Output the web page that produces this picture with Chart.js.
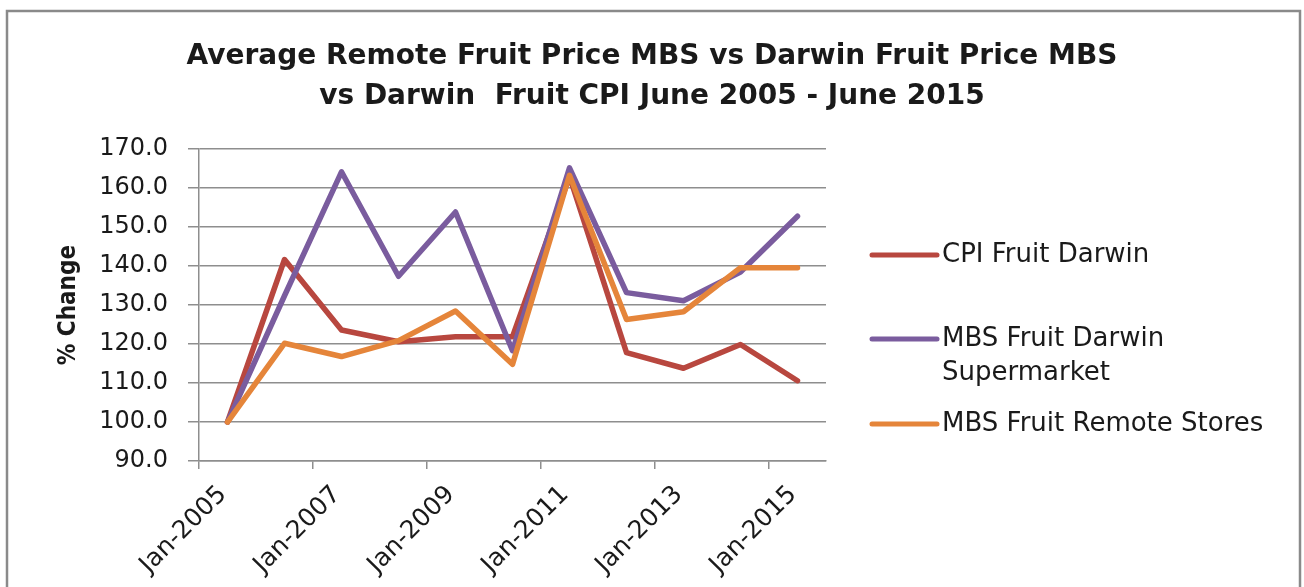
<!DOCTYPE html>
<html>
<head>
<meta charset="utf-8">
<script src="https://cdn.jsdelivr.net/npm/chart.js@4.4.1/dist/chart.umd.min.js"></script>
<style>
  html, body { margin: 0; padding: 0; background: #fff; }
  #wrap { width: 1304px; height: 587px; }
</style>
</head>
<body>
<div id="wrap"><canvas id="fruitChart" width="1304" height="587"></canvas></div>
<script>
// index (June 2005 = 100), one value per June
const periods = ['Jun-2005', 'Jun-2006', 'Jun-2007', 'Jun-2008', 'Jun-2009', 'Jun-2010',
                 'Jun-2011', 'Jun-2012', 'Jun-2013', 'Jun-2014', 'Jun-2015'];
const cpiFruitDarwin = [100, 141.7, 123.6, 120.6, 121.9, 121.9, 163.0, 117.8, 113.8, 119.9, 110.6];
const mbsDarwinSupermarket = [100, 132.4, 164.2, 137.4, 153.9, 118.3, 165.2, 133.2, 131.1, 138.5, 152.8];
const mbsRemoteStores = [100, 120.2, 116.8, 120.9, 128.5, 114.8, 163.3, 126.3, 128.3, 139.6, 139.6];
const xTickYears = [2005, 2007, 2009, 2011, 2013, 2015];
const yTicks = [90, 100, 110, 120, 130, 140, 150, 160, 170];

const chartTitle = ['Average Remote Fruit Price MBS vs Darwin Fruit Price MBS',
                    'vs Darwin  Fruit CPI June 2005 - June 2015'];

const MONTHS = ['Jan', 'Feb', 'Mar', 'Apr', 'May', 'Jun', 'Jul', 'Aug', 'Sep', 'Oct', 'Nov', 'Dec'];
// end of month as decimal year
function toYear(p) {
  const [m, y] = p.split('-');
  return Number(y) + (MONTHS.indexOf(m) + 1) / 12;
}
const pts = vals => vals.map((v, i) => ({ x: toYear(periods[i]), y: v }));

const GRID = '#8e8e8e';
const TEXT = '#1a1a1a';
const FONT = "'DejaVu Sans', sans-serif";

// frame round the whole chart
const framePlugin = {
  id: 'frame',
  beforeDraw(chart) {
    const c = chart.ctx;
    c.save();
    c.fillStyle = '#fff';
    c.fillRect(0, 0, chart.width, chart.height);
    c.strokeStyle = '#8a8a8a';
    c.lineWidth = 2.5;
    c.strokeRect(7, 11, 1293, 620);
    c.restore();
  }
};

// legend on the right, wraps long names like Excel does
const sideLegend = {
  id: 'sideLegend',
  afterDraw(chart, args, opts) {
    const c = chart.ctx;
    const x0 = chart.chartArea.right + opts.offsetX;
    c.save();
    c.font = opts.fontSize + 'px ' + FONT;
    c.textBaseline = 'middle';
    chart.data.datasets.forEach((ds, i) => {
      const y = opts.rowY[i];
      c.strokeStyle = ds.borderColor;
      c.lineWidth = 5;
      c.lineCap = 'round';
      c.beginPath();
      c.moveTo(x0, y);
      c.lineTo(x0 + opts.lineLen, y);
      c.stroke();
      // wrap words
      const lines = [];
      let cur = '';
      ds.label.split(' ').forEach(w => {
        const t = cur ? cur + ' ' + w : w;
        if (cur && c.measureText(t).width > opts.maxWidth) { lines.push(cur); cur = w; }
        else cur = t;
      });
      lines.push(cur);
      c.fillStyle = TEXT;
      lines.forEach((l, j) => c.fillText(l, x0 + opts.lineLen + opts.gap, y + j * opts.lineStep));
    });
    c.restore();
  }
};

new Chart(document.getElementById('fruitChart'), {
  type: 'line',
  data: {
    datasets: [
      { label: 'CPI Fruit Darwin', data: pts(cpiFruitDarwin), borderColor: '#b8473f', order: 2 },
      { label: 'MBS Fruit Darwin Supermarket', data: pts(mbsDarwinSupermarket), borderColor: '#7a5c9e', order: 1 },
      { label: 'MBS Fruit Remote Stores', data: pts(mbsRemoteStores), borderColor: '#e5853a', order: 0 }
    ]
  },
  options: {
    responsive: false,
    animation: false,
    devicePixelRatio: 1,
    layout: { padding: 0 },
    elements: {
      line: { borderWidth: 5.5, tension: 0, borderJoinStyle: 'round', borderCapStyle: 'round', fill: false },
      point: { radius: 0, hoverRadius: 0 }
    },
    plugins: {
      legend: { display: false },
      tooltip: { enabled: false },
      title: {
        display: true,
        text: chartTitle,
        color: TEXT,
        font: { family: FONT, size: 28, weight: 'bold', lineHeight: 1.45 },
        padding: { top: 36, bottom: 32 }
      },
      sideLegend: { offsetX: 46, lineLen: 65, gap: 5, fontSize: 26, maxWidth: 360, lineStep: 34, rowY: [255, 339, 424] }
    },
    scales: {
      x: {
        type: 'linear',
        min: 2005,
        max: 2016,
        afterBuildTicks: s => { s.ticks = xTickYears.map(v => ({ value: v })); },
        afterFit: s => { s.height = 126; },
        grid: { drawOnChartArea: false, color: GRID, lineWidth: 1.5, tickLength: 8 },
        border: { display: true, color: GRID, width: 1.5 },
        ticks: {
          autoSkip: false,
          maxRotation: 45,
          minRotation: 45,
          color: TEXT,
          font: { family: FONT, size: 25 },
          padding: 11,
          labelOffset: 24,
          callback: v => 'Jan-' + v
        }
      },
      y: {
        min: 90,
        max: 170,
        afterBuildTicks: s => { s.ticks = yTicks.map(v => ({ value: v })); },
        afterFit: s => { s.width = 199; },
        grid: { color: GRID, lineWidth: 1.5, tickLength: 11 },
        border: { display: true, color: GRID, width: 1.5 },
        ticks: {
          color: TEXT,
          font: { family: FONT, size: 24 },
          padding: 20,
          callback: v => v.toFixed(1)
        },
        title: {
          display: true,
          text: '% Change',
          color: TEXT,
          font: { family: "'Liberation Sans Narrow', 'DejaVu Sans Condensed', 'DejaVu Sans', sans-serif", size: 24, weight: 'bold' },
          padding: { top: 54, bottom: 0 }
        }
      },
      // empty box that keeps room for the legend
      side: {
        type: 'linear',
        position: 'right',
        display: true,
        afterFit: s => { s.width = 478; },
        grid: { display: false },
        border: { display: false },
        ticks: { display: false }
      }
    }
  },
  plugins: [framePlugin, sideLegend]
});
</script>
</body>
</html>
